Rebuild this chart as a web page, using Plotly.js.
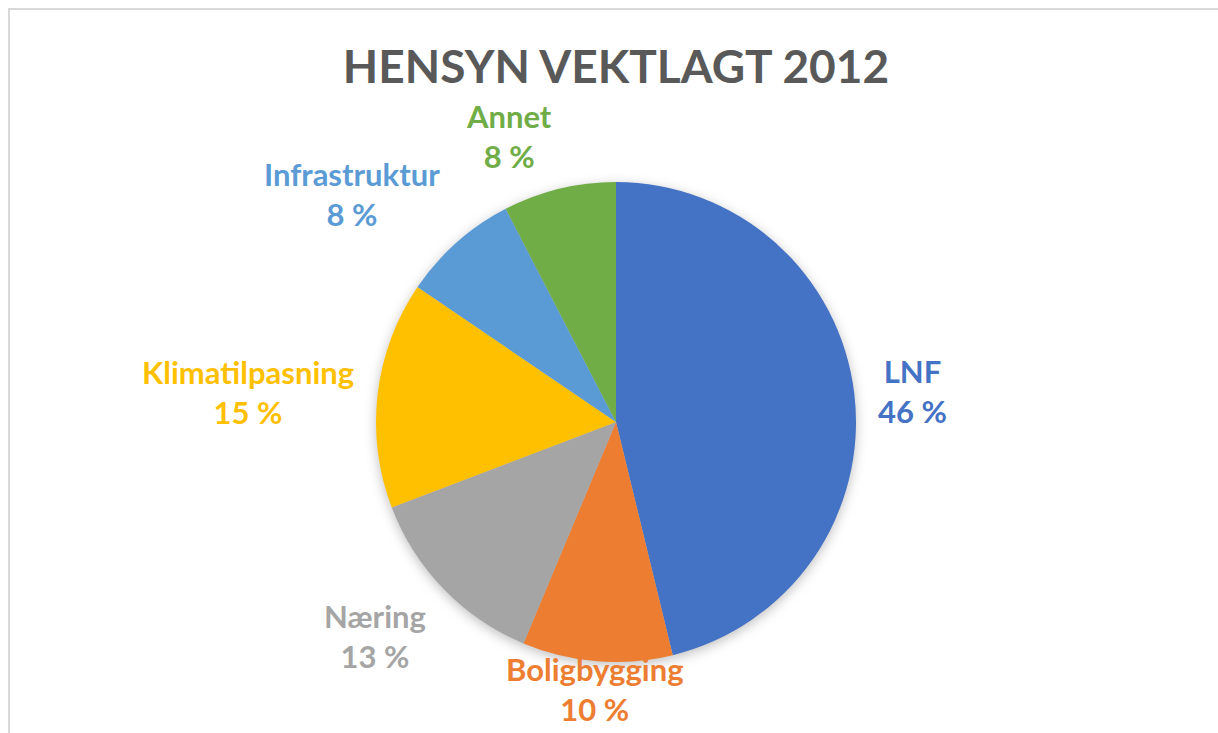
<!DOCTYPE html>
<html>
<head>
<meta charset="utf-8">
<script src="https://cdn.plot.ly/plotly-3.0.1.min.js"></script>
<style>
  html, body { margin: 0; padding: 0; background: #fff; }
  #wrap { position: relative; width: 1218px; height: 733px; overflow: hidden; }
  #chart { position: absolute; left: 0; top: 0; width: 1218px; height: 733px; }
  #frame { position: absolute; left: 8px; top: 8px; width: 1240px; height: 760px;
           border: 2px solid #d9d9d9; box-sizing: border-box; pointer-events: none; }
  .pielayer .trace { filter: drop-shadow(0px 3px 6px rgba(0,0,0,0.25)); }
</style>
</head>
<body>
<div id="wrap">
  <div id="chart"></div>
  <div id="frame"></div>
</div>
<script>
const categories = ["LNF", "Boligbygging", "Næring", "Klimatilpasning", "Infrastruktur", "Annet"];
const values = [46.2, 10.1, 12.9, 15.3, 7.9, 7.6];
const colors = ["#4472C4", "#ED7D31", "#A5A5A5", "#FFC000", "#5B9BD5", "#70AD47"];
const titleText = "HENSYN VEKTLAGT 2012";

const W = 1218, H = 733;
const cx = 616, cy = 422, R = 240;
const gap = 22;
const labelSize = 31;
const boxH = 2 * labelSize * 1.3 + 2;
const inkPad = 0.3 * labelSize;   // empty space between text box edge and glyph ink
const fontFamily = "Lato, 'Open Sans', sans-serif";

const domain = {
  x: [(cx - R) / W, (cx + R) / W],
  y: [1 - (cy + R) / H, 1 - (cy - R) / H]
};

// labels placed just outside each slice, anchored by the slice's mid-angle
const total = values.reduce((a, b) => a + b, 0);
let cum = 0;
const annotations = categories.map((c, i) => {
  const mid = (cum + values[i] / 2) / total * 2 * Math.PI;
  cum += values[i];
  const pct = Math.round(values[i] / total * 100) + " %";
  const s = Math.sin(mid), co = Math.cos(mid);
  const px = cx + (R + gap) * s;
  let py = cy - (R + gap) * co;
  const xanchor = s > 0.2 ? "left" : (s < -0.2 ? "right" : "center");
  const yanchor = co > 0.5 ? "bottom" : (co < -0.5 ? "top" : "middle");
  if (yanchor === "bottom") py += inkPad;
  if (yanchor === "top") py -= inkPad;
  // keep the label box inside the chart area
  if (yanchor === "top") py = Math.min(py, H - boxH - 2);
  if (yanchor === "bottom") py = Math.max(py, boxH + 2);
  return {
    xref: "paper", yref: "paper",
    x: px / W, y: 1 - py / H,
    xanchor: xanchor, yanchor: yanchor,
    text: "<b>" + c + "</b><br><b>" + pct + "</b>",
    showarrow: false,
    align: "center",
    font: { family: fontFamily, size: labelSize, color: colors[i] }
  };
});

const data = [{
  type: "pie",
  labels: categories,
  values: values,
  sort: false,
  direction: "clockwise",
  rotation: 0,
  marker: { colors: colors, line: { width: 0 } },
  textinfo: "none",
  hoverinfo: "label+percent",
  domain: domain,
  showlegend: false
}];

const layout = {
  width: W, height: H,
  margin: { l: 0, r: 0, t: 0, b: 0 },
  paper_bgcolor: "#ffffff",
  title: {
    text: "<b>" + titleText + "</b>",
    x: cx / W, xanchor: "center",
    y: 1 - 67 / H, yanchor: "middle",
    xref: "container", yref: "container",
    font: { family: fontFamily, size: 46, color: "#595959" }
  },
  annotations: annotations,
  showlegend: false
};

Plotly.newPlot("chart", data, layout, { displayModeBar: false, staticPlot: true });
</script>
</body>
</html>
